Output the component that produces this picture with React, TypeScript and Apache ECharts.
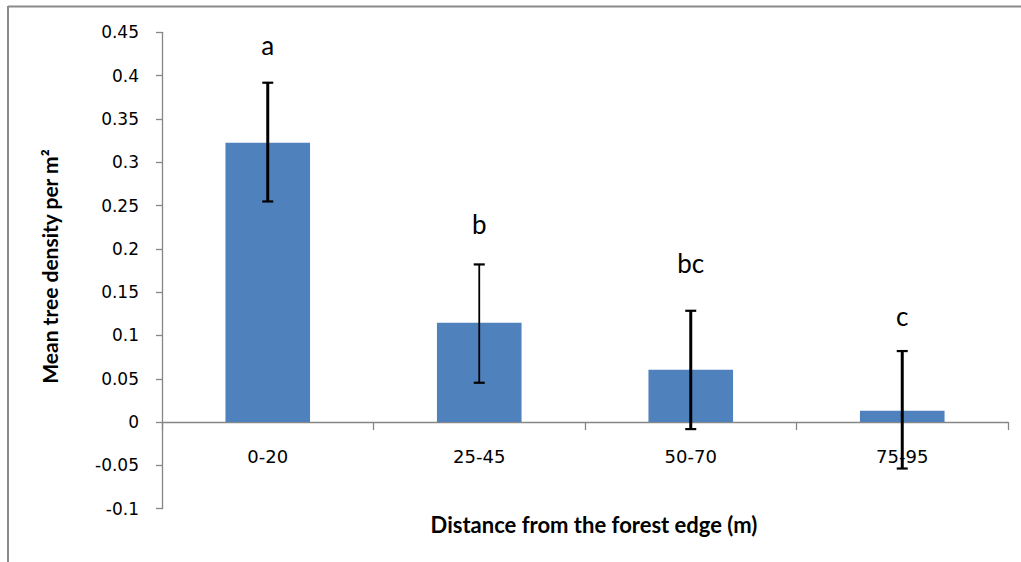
import React, { useEffect, useRef } from "react";
import * as echarts from "echarts";

const categories = ["0-20", "25-45", "50-70", "75-95"];
const meanDensity = [0.3225, 0.1147, 0.0604, 0.013];
const errLower = [0.2547, 0.0454, -0.0081, -0.0536];
const errUpper = [0.3918, 0.182, 0.1285, 0.082];
const groupLetters = ["a", "b", "bc", "c"];
const letterY = [0.435, 0.229, 0.184, 0.1228];
const yMin = -0.1;
const yMax = 0.45;
const yStep = 0.05;

const errLineWidths = [3, 1.8, 3, 3];

export default function App() {
  const ref = useRef<HTMLDivElement>(null);
  useEffect(() => {
    if (!ref.current) return;
    const chart = echarts.init(ref.current, undefined, { renderer: "svg" });
    const axisGray = "#868686";
    chart.setOption({
      animation: false,
      backgroundColor: "#ffffff",
      grid: { left: 162, right: 13, top: 32.3, bottom: 53.3, containLabel: false, outerBoundsMode: "none" },
      graphic: [
        { type: "line", shape: { x1: 8, y1: 6.5, x2: 1021, y2: 6.5 }, style: { stroke: "#8a8a8a", lineWidth: 2 } },
        { type: "line", shape: { x1: 8, y1: 6, x2: 8, y2: 562 }, style: { stroke: "#8a8a8a", lineWidth: 2 } },
      ],
      xAxis: {
        type: "category",
        data: categories,
        axisLine: { onZero: true, lineStyle: { color: axisGray, width: 1.3 } },
        axisTick: { show: true, length: 8, lineStyle: { color: axisGray, width: 1.3 } },
        axisLabel: { margin: -61, fontFamily: "DejaVu Sans", fontSize: 18, color: "#000" },
        name: "Distance from the forest edge (m)",
        nameLocation: "middle",
        nameGap: 5,
        nameTextStyle: { fontFamily: "Lato", fontWeight: "bold", fontSize: 22, color: "#000", padding: [0, 0, 0, 18] },
        splitLine: { show: false },
      },
      yAxis: {
        type: "value",
        min: yMin,
        max: yMax,
        interval: yStep,
        axisLine: { show: true, onZero: false, lineStyle: { color: axisGray, width: 1.3 } },
        axisTick: { show: true, length: 6, lineStyle: { color: axisGray, width: 1.3 } },
        axisLabel: {
          margin: 23,
          fontFamily: "DejaVu Sans",
          fontSize: 17,
          color: "#000",
          formatter: (v: number) => String(+v.toFixed(2)),
        },
        splitLine: { show: false },
        name: "Mean tree density per m\u00B2",
        nameLocation: "middle",
        nameRotate: 90,
        nameGap: 102,
        nameTextStyle: { fontFamily: "Lato", fontWeight: "bold", fontSize: 21, color: "#000", padding: [0, 0, 0, 8] },
      },
      series: [
        {
          type: "bar",
          data: meanDensity,
          barWidth: "40%",
          itemStyle: { color: "#4F81BD" },
          z: 2,
        },
        {
          type: "custom",
          z: 3,
          data: categories.map((_, i) => [i, errLower[i], errUpper[i], errLineWidths[i]]),
          renderItem: (params: any, api: any) => {
            const x = api.value(0);
            const lo = api.coord([x, api.value(1)]);
            const hi = api.coord([x, api.value(2)]);
            const lw = api.value(3);
            const half = 5.5;
            return {
              type: "group",
              children: [
                { type: "line", shape: { x1: hi[0], y1: hi[1], x2: lo[0], y2: lo[1] }, style: { stroke: "#000", lineWidth: lw } },
                { type: "line", shape: { x1: hi[0] - half, y1: hi[1], x2: hi[0] + half, y2: hi[1] }, style: { stroke: "#000", lineWidth: 2.2 } },
                { type: "line", shape: { x1: lo[0] - half, y1: lo[1], x2: lo[0] + half, y2: lo[1] }, style: { stroke: "#000", lineWidth: 2.2 } },
              ],
            };
          },
        },
        {
          type: "custom",
          z: 4,
          data: categories.map((_, i) => [i, letterY[i]]),
          renderItem: (params: any, api: any) => {
            const p = api.coord([api.value(0), api.value(1)]);
            return {
              type: "text",
              x: p[0],
              y: p[1],
              style: {
                text: groupLetters[params.dataIndex],
                fontFamily: "Lato",
                fontSize: 26,
                fill: "#000",
                align: "center",
                verticalAlign: "middle",
              },
            };
          },
        },
      ],
    });
    return () => chart.dispose();
  }, []);
  return <div ref={ref} style={{ width: 1021, height: 562, position: "absolute", left: 0, top: 0 }} />;
}
